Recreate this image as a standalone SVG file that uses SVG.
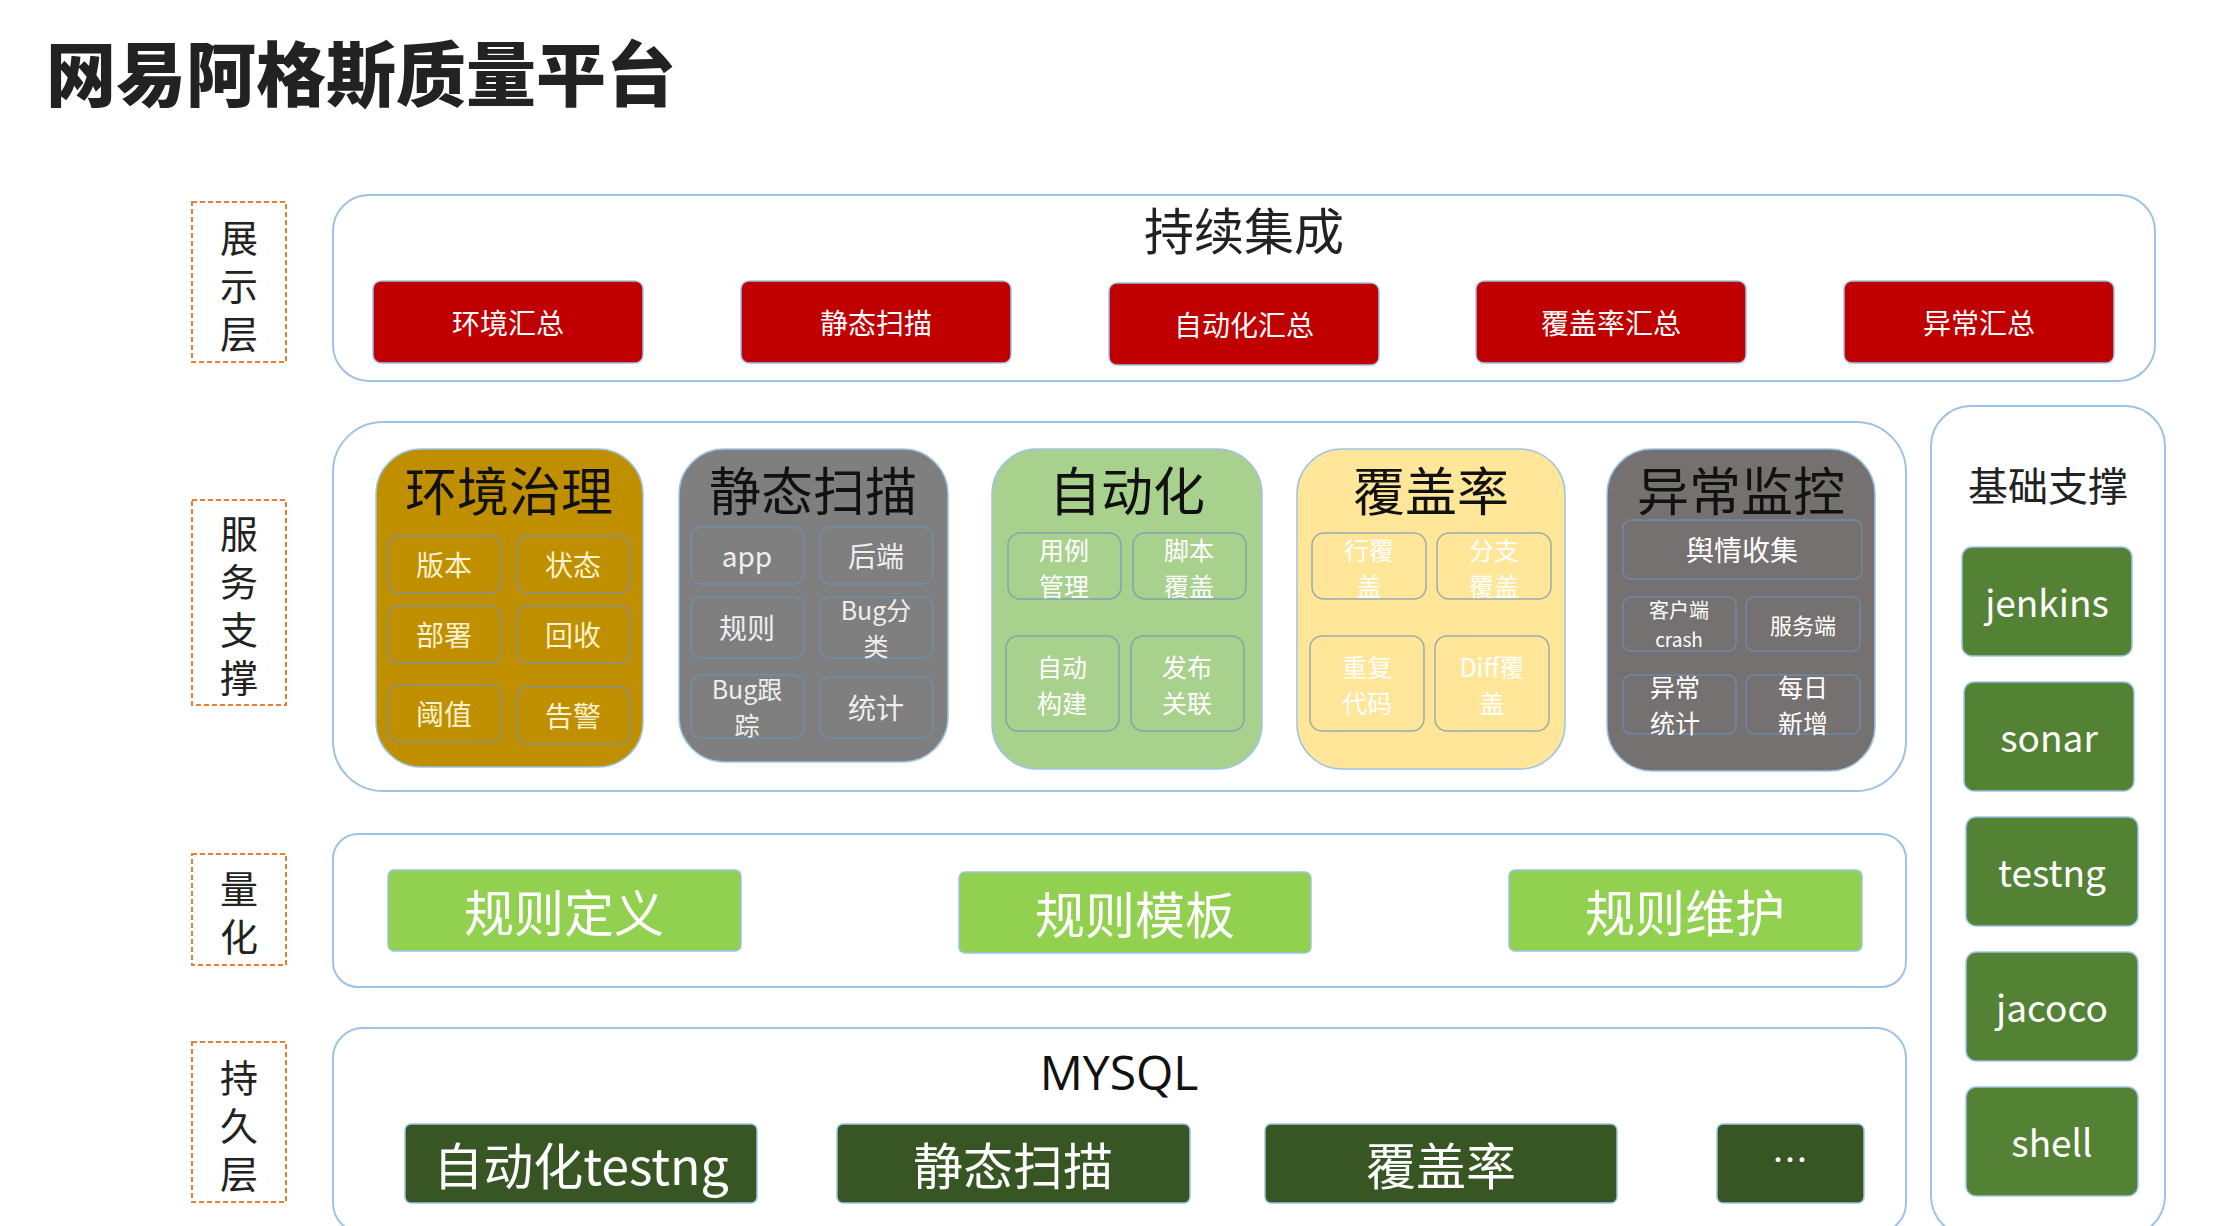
<svg xmlns="http://www.w3.org/2000/svg" width="2240" height="1226" viewBox="0 0 2240 1226">
<style>
text{font-family:"Noto Sans CJK SC","Liberation Sans",sans-serif;text-anchor:middle;dominant-baseline:central}
.panel{fill:#fff;stroke:#9dc3e6;stroke-width:2}
.lbl{fill:none;stroke:#ed7d31;stroke-width:2;stroke-dasharray:5 3}
.lt{font-size:38px;fill:#222}
.red{fill:#c00000;stroke:#9dc3e6;stroke-width:1.5}
.rt{font-size:28px;fill:#fff}
.cell{fill:none;stroke:#6f93b8;stroke-width:1.5;stroke-opacity:.7}
.mt{font-size:52px;fill:#111}
.ct{font-size:28px}
.c2{font-size:25px}
.tool{fill:#548235;stroke:#9dc3e6;stroke-width:1.5}
.tt{font-size:37px;fill:#fff}
.lg{fill:#92d050;stroke:#9dc3e6;stroke-width:1.5}
.dg{fill:#375623;stroke:#9dc3e6;stroke-width:1.5}
.bt{font-size:50px;fill:#fff}
</style>
<rect width="2240" height="1226" fill="#fff"/>
<text x="46" y="70" style="text-anchor:start;font-size:70px;font-weight:900;fill:#222">网易阿格斯质量平台</text>

<g id="labels">
<rect class="lbl" x="192" y="202" width="94" height="160"/>
<text class="lt" x="239" y="235">展</text><text class="lt" x="239" y="283">示</text><text class="lt" x="239" y="331">层</text>
<rect class="lbl" x="192" y="500" width="94" height="205"/>
<text class="lt" x="239" y="531">服</text><text class="lt" x="239" y="579">务</text><text class="lt" x="239" y="627">支</text><text class="lt" x="239" y="675">撑</text>
<rect class="lbl" x="192" y="854" width="94" height="111"/>
<text class="lt" x="239" y="886">量</text><text class="lt" x="239" y="934">化</text>
<rect class="lbl" x="192" y="1042" width="94" height="160"/>
<text class="lt" x="239" y="1075">持</text><text class="lt" x="239" y="1123">久</text><text class="lt" x="239" y="1171">层</text>
</g>

<g id="ci">
<rect class="panel" x="333" y="195" width="1822" height="186" rx="36"/>
<text x="1244" y="228" style="font-size:50px;fill:#222">持续集成</text>
<rect class="red" x="373" y="281" width="270" height="82" rx="8"/><text class="rt" x="508" y="322">环境汇总</text>
<rect class="red" x="741" y="281" width="270" height="82" rx="8"/><text class="rt" x="876" y="322">静态扫描</text>
<rect class="red" x="1109" y="283" width="270" height="82" rx="8"/><text class="rt" x="1244" y="324">自动化汇总</text>
<rect class="red" x="1476" y="281" width="270" height="82" rx="8"/><text class="rt" x="1611" y="322">覆盖率汇总</text>
<rect class="red" x="1844" y="281" width="270" height="82" rx="8"/><text class="rt" x="1979" y="322">异常汇总</text>
</g>

<g id="service">
<rect class="panel" x="333" y="422" width="1573" height="369" rx="50"/>
</g>

<g id="env">
<rect x="376" y="449" width="267" height="318" rx="45" fill="#bf8f00" stroke="#9dc3e6" stroke-width="1.5"/>
<text class="mt" x="509" y="488">环境治理</text>
<rect class="cell" x="388" y="536" width="113" height="57" rx="10"/><text class="ct" x="444" y="564" fill="#fff2cc">版本</text>
<rect class="cell" x="517" y="536" width="113" height="57" rx="10"/><text class="ct" x="573" y="564" fill="#fff2cc">状态</text>
<rect class="cell" x="388" y="606" width="113" height="57" rx="10"/><text class="ct" x="444" y="634" fill="#fff2cc">部署</text>
<rect class="cell" x="517" y="606" width="113" height="57" rx="10"/><text class="ct" x="573" y="634" fill="#fff2cc">回收</text>
<rect class="cell" x="388" y="685" width="113" height="57" rx="10"/><text class="ct" x="444" y="713" fill="#fff2cc">阈值</text>
<rect class="cell" x="517" y="687" width="113" height="57" rx="10"/><text class="ct" x="573" y="715" fill="#fff2cc">告警</text>
</g>

<g id="static">
<rect x="679" y="449" width="269" height="313" rx="45" fill="#7f7f7f" stroke="#9dc3e6" stroke-width="1.5"/>
<text class="mt" x="813" y="488">静态扫描</text>
<rect class="cell" x="691" y="527" width="113" height="57" rx="10"/><text class="ct" x="747" y="555" fill="#eee">app</text>
<rect class="cell" x="820" y="527" width="113" height="57" rx="10"/><text class="ct" x="876" y="555" fill="#eee">后端</text>
<rect class="cell" x="691" y="597" width="113" height="61" rx="10"/><text class="ct" x="747" y="627" fill="#eee">规则</text>
<rect class="cell" x="820" y="597" width="113" height="61" rx="10"/><text class="c2" x="876" y="609" fill="#eee"><tspan x="876">Bug分</tspan><tspan x="876" dy="36">类</tspan></text>
<rect class="cell" x="691" y="675" width="113" height="63" rx="10"/><text class="c2" x="747" y="688" fill="#eee"><tspan x="747">Bug跟</tspan><tspan x="747" dy="36">踪</tspan></text>
<rect class="cell" x="820" y="677" width="113" height="61" rx="10"/><text class="ct" x="876" y="707" fill="#eee">统计</text>
</g>

<g id="auto">
<rect x="992" y="449" width="270" height="320" rx="45" fill="#a9d18e" stroke="#9dc3e6" stroke-width="1.5"/>
<text class="mt" x="1127" y="488">自动化</text>
<rect class="cell" x="1008" y="533" width="113" height="66" rx="12"/><text class="c2" x="1064" y="549" fill="#fff"><tspan x="1064">用例</tspan><tspan x="1064" dy="36">管理</tspan></text>
<rect class="cell" x="1133" y="533" width="113" height="66" rx="12"/><text class="c2" x="1189" y="549" fill="#fff"><tspan x="1189">脚本</tspan><tspan x="1189" dy="36">覆盖</tspan></text>
<rect class="cell" x="1006" y="636" width="113" height="95" rx="12"/><text class="c2" x="1062" y="666" fill="#fff"><tspan x="1062">自动</tspan><tspan x="1062" dy="36">构建</tspan></text>
<rect class="cell" x="1131" y="636" width="113" height="95" rx="12"/><text class="c2" x="1187" y="666" fill="#fff"><tspan x="1187">发布</tspan><tspan x="1187" dy="36">关联</tspan></text>
</g>

<g id="cov">
<rect x="1297" y="449" width="268" height="320" rx="45" fill="#ffe699" stroke="#9dc3e6" stroke-width="1.5"/>
<text class="mt" x="1431" y="488">覆盖率</text>
<rect class="cell" x="1312" y="533" width="114" height="66" rx="12"/><text class="c2" x="1369" y="549" fill="#fff"><tspan x="1369">行覆</tspan><tspan x="1369" dy="36">盖</tspan></text>
<rect class="cell" x="1437" y="533" width="114" height="66" rx="12"/><text class="c2" x="1494" y="549" fill="#fff"><tspan x="1494">分支</tspan><tspan x="1494" dy="36">覆盖</tspan></text>
<rect class="cell" x="1310" y="636" width="114" height="95" rx="12"/><text class="c2" x="1367" y="666" fill="#fff"><tspan x="1367">重复</tspan><tspan x="1367" dy="36">代码</tspan></text>
<rect class="cell" x="1435" y="636" width="114" height="95" rx="12"/><text class="c2" x="1492" y="666" fill="#fff"><tspan x="1492">Diff覆</tspan><tspan x="1492" dy="36">盖</tspan></text>
</g>

<g id="mon">
<rect x="1607" y="449" width="268" height="322" rx="45" fill="#767171" stroke="#9dc3e6" stroke-width="1.5"/>
<text class="mt" x="1741" y="488">异常监控</text>
<rect class="cell" x="1623" y="520" width="239" height="59" rx="8"/><text class="ct" x="1742" y="549" fill="#fff">舆情收集</text>
<rect class="cell" x="1623" y="597" width="113" height="54" rx="8"/><text x="1679" y="609" fill="#fff" style="font-size:20px"><tspan x="1679">客户端</tspan><tspan x="1679" dy="29" style="font-size:19px">crash</tspan></text>
<rect class="cell" x="1746" y="597" width="114" height="54" rx="8"/><text x="1803" y="624" fill="#fff" style="font-size:22px">服务端</text>
<rect class="cell" x="1623" y="675" width="113" height="59" rx="8"/><text class="c2" x="1675" y="686" fill="#fff"><tspan x="1675">异常</tspan><tspan x="1675" dy="36">统计</tspan></text>
<rect class="cell" x="1746" y="675" width="114" height="59" rx="8"/><text class="c2" x="1803" y="686" fill="#fff"><tspan x="1803">每日</tspan><tspan x="1803" dy="36">新增</tspan></text>
</g>

<g id="support">
<rect class="panel" x="1931" y="406" width="234" height="830" rx="40"/>
<text x="2048" y="484" style="font-size:40px;fill:#222">基础支撑</text>
<rect class="tool" x="1962" y="547" width="170" height="109" rx="10"/><text class="tt" x="2047" y="601">jenkins</text>
<rect class="tool" x="1964" y="682" width="170" height="109" rx="10"/><text class="tt" x="2049" y="736">sonar</text>
<rect class="tool" x="1966" y="817" width="172" height="109" rx="10"/><text class="tt" x="2052" y="871">testng</text>
<rect class="tool" x="1966" y="952" width="172" height="109" rx="10"/><text class="tt" x="2052" y="1006">jacoco</text>
<rect class="tool" x="1966" y="1087" width="172" height="109" rx="10"/><text class="tt" x="2052" y="1141">shell</text>
</g>

<g id="quant">
<rect class="panel" x="333" y="834" width="1573" height="153" rx="25"/>
<rect class="lg" x="388" y="870" width="353" height="81" rx="6"/><text class="bt" x="564" y="910">规则定义</text>
<rect class="lg" x="959" y="872" width="352" height="81" rx="6"/><text class="bt" x="1135" y="912">规则模板</text>
<rect class="lg" x="1509" y="870" width="353" height="81" rx="6"/><text class="bt" x="1685" y="910">规则维护</text>
</g>

<g id="persist">
<rect class="panel" x="333" y="1028" width="1573" height="205" rx="30"/>
<text x="1119" y="1071" style="font-size:48px;fill:#111;font-family:'Open Sans','Liberation Sans',sans-serif">MYSQL</text>
<rect class="dg" x="405" y="1124" width="352" height="79" rx="6"/><text class="bt" x="581" y="1163">自动化testng</text>
<rect class="dg" x="837" y="1124" width="353" height="79" rx="6"/><text class="bt" x="1013" y="1163">静态扫描</text>
<rect class="dg" x="1265" y="1124" width="352" height="79" rx="6"/><text class="bt" x="1441" y="1163">覆盖率</text>
<rect class="dg" x="1717" y="1124" width="147" height="79" rx="6"/><text class="bt" x="1790" y="1158" style="font-size:36px">…</text>
</g>
<g id="connectors"/>
</svg>
